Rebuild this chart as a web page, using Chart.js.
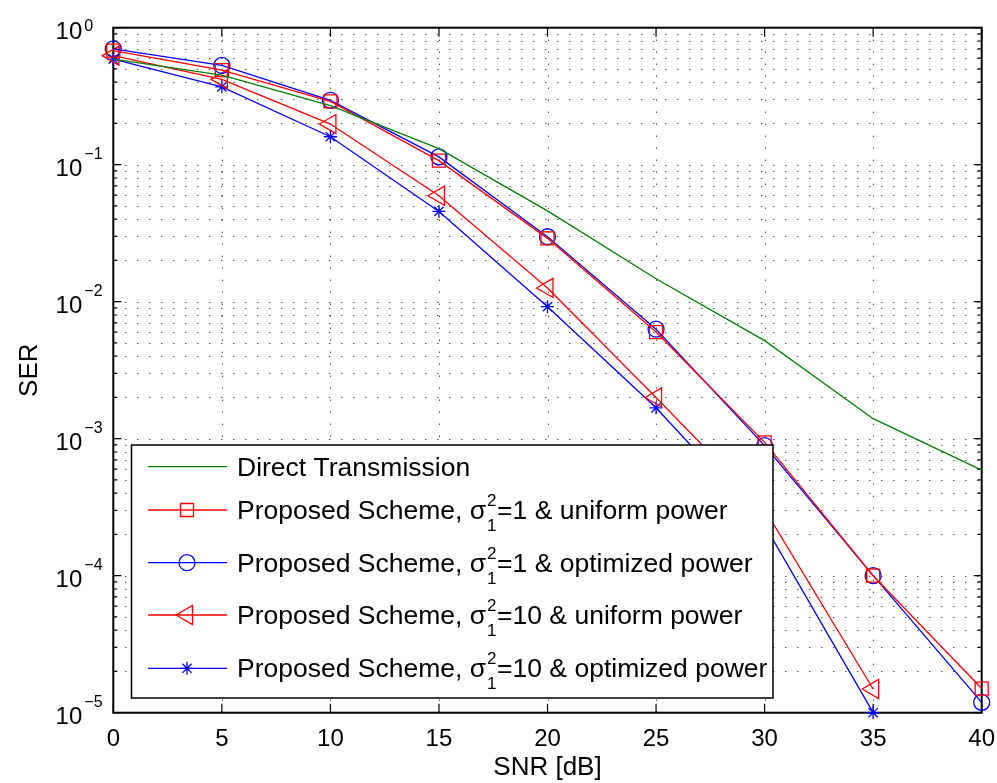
<!DOCTYPE html>
<html>
<head>
<meta charset="utf-8">
<script src="https://cdn.jsdelivr.net/npm/chart.js@4.4.0/dist/chart.umd.min.js"></script>
<style>
  html, body { margin: 0; padding: 0; background: #ffffff; }
  canvas { display: block; }
</style>
</head>
<body>
<canvas id="c" width="997" height="783"></canvas>
<script>
// ---- data ----
const snr = [0, 5, 10, 15, 20, 25, 30, 35, 40];
const directTx     = [0.59, 0.45, 0.27, 0.131, 0.046, 0.0147, 0.0052, 0.0014, 0.00059];
const s1Uniform    = [0.68, 0.49, 0.29, 0.107, 0.029, 0.0060, 0.00094, 0.0001, 0.000015];
const s1Optimized  = [0.70, 0.53, 0.295, 0.114, 0.0298, 0.0063, 0.00089, 0.0001, 0.0000119];
const s10Uniform   = [0.625, 0.42, 0.198, 0.0594, 0.0126, 0.0020, 0.000305, 0.0000149];
const s10Optimized = [0.59, 0.37, 0.16, 0.0456, 0.0092, 0.00168, 0.000234, 0.00001];

const xTicks = [0, 5, 10, 15, 20, 25, 30, 35, 40];
const yTickExponents = [0, -1, -2, -3, -4, -5];
const legendLabels = [
  ['Direct Transmission'],
  ['Proposed Scheme, σ', '2', '1', '=1 & uniform power'],
  ['Proposed Scheme, σ', '2', '1', '=1 & optimized power'],
  ['Proposed Scheme, σ', '2', '1', '=10 & uniform power'],
  ['Proposed Scheme, σ', '2', '1', '=10 & optimized power']
];
const xTitle = 'SNR [dB]';
const yTitle = 'SER';

const FONT = '"Liberation Sans", Arial, Helvetica, sans-serif';

function pts(vals) { return vals.map((v, i) => ({ x: snr[i], y: v })); }

const datasets = [
  { label: legendLabels[0].join(''), data: pts(directTx), borderColor: '#008000', pointRadius: 0, pointStyle: false },
  { label: 'a', data: pts(s1Uniform), borderColor: '#ff0000', pointStyle: 'rect', pointRadius: 9.2, pointRotation: 0 },
  { label: 'b', data: pts(s1Optimized), borderColor: '#0000ff', pointStyle: 'circle', pointRadius: 8 },
  { label: 'c', data: pts(s10Uniform), borderColor: '#ff0000', pointStyle: 'triangle', pointRadius: 11, pointRotation: -90 },
  { label: 'd', data: pts(s10Optimized), borderColor: '#0000ff', pointStyle: 'star', pointRadius: 6.5 }
].map(d => Object.assign({
  borderWidth: 1.3,
  pointBorderColor: d.borderColor,
  pointBackgroundColor: 'rgba(0,0,0,0)',
  pointBorderWidth: 1.3,
  pointHoverRadius: d.pointRadius,
  tension: 0,
  fill: false,
  clip: false
}, d));

const decorPlugin = {
  id: 'decor',
  beforeDatasetsDraw(chart) {
    const ctx = chart.ctx, a = chart.chartArea;
    const xs = chart.scales.x, ys = chart.scales.y;
    ctx.save();
    // dotted grid
    ctx.strokeStyle = '#000';
    ctx.lineWidth = 1;
    ctx.setLineDash([1, 11]);
    const yVals = [];
    for (let e = -5; e < 0; e++) for (let m = 1; m < 10; m++) yVals.push(m * Math.pow(10, e));
    yVals.forEach(v => {
      if (v <= 1e-5 * 1.0001) return;
      const y = Math.round(ys.getPixelForValue(v)) + 0.5;
      ctx.beginPath(); ctx.moveTo(a.left, y); ctx.lineTo(a.right, y); ctx.stroke();
    });
    xTicks.forEach(v => {
      if (v === 0 || v === 40) return;
      const x = Math.round(xs.getPixelForValue(v)) + 0.5;
      ctx.beginPath(); ctx.moveTo(x, a.bottom); ctx.lineTo(x, a.top); ctx.stroke();
    });
    ctx.setLineDash([]);
    // axis box
    ctx.lineWidth = 2;
    ctx.strokeStyle = '#000';
    ctx.strokeRect(a.left, a.top, a.right - a.left, a.bottom - a.top);
    // ticks
    ctx.lineWidth = 1.2;
    ctx.beginPath();
    yVals.concat([1]).forEach(v => {
      const y = ys.getPixelForValue(v);
      const lg = Math.log10(v);
      const major = Math.abs(lg - Math.round(lg)) < 1e-6;
      const len = major ? 8 : 4;
      ctx.moveTo(a.left, y); ctx.lineTo(a.left + len, y);
      ctx.moveTo(a.right, y); ctx.lineTo(a.right - len, y);
    });
    xTicks.forEach(v => {
      const x = xs.getPixelForValue(v);
      ctx.moveTo(x, a.bottom); ctx.lineTo(x, a.bottom - 9);
      ctx.moveTo(x, a.top); ctx.lineTo(x, a.top + 9);
    });
    ctx.stroke();
    // tick labels
    ctx.fillStyle = '#000';
    ctx.font = '24px ' + FONT;
    ctx.textAlign = 'center';
    ctx.textBaseline = 'alphabetic';
    xTicks.forEach(v => {
      ctx.fillText(String(v), xs.getPixelForValue(v), a.bottom + 33);
    });
    yTickExponents.forEach(e => {
      const y = ys.getPixelForValue(Math.pow(10, e));
      ctx.font = '24px ' + FONT;
      ctx.textAlign = 'right';
      ctx.fillText('10', a.left - 31, y + 11);
      ctx.font = '16px ' + FONT;
      ctx.textAlign = 'left';
      const txt = e === 0 ? '0' : '\u2212' + String(-e);
      ctx.fillText(txt, a.left - 29, e === 0 ? y + 3 : y - 6);
    });
    // axis titles
    ctx.font = '26px ' + FONT;
    ctx.textAlign = 'center';
    ctx.fillText(xTitle, (a.left + a.right) / 2, 775);
    ctx.save();
    ctx.translate(37, (a.top + a.bottom) / 2);
    ctx.rotate(-Math.PI / 2);
    ctx.fillText(yTitle, 0, 0);
    ctx.restore();
    ctx.restore();
  },
  afterDatasetsDraw(chart) {
    const ctx = chart.ctx;
    ctx.save();
    const bx = 131.5, by = 445, bw = 773 - 131.5, bh = 698 - 445;
    ctx.fillStyle = '#fff';
    ctx.fillRect(bx, by, bw, bh);
    ctx.lineWidth = 1.5;
    ctx.strokeStyle = '#000';
    ctx.strokeRect(bx, by, bw, bh);
    const rows = [466.7, 510, 562.7, 615, 668.3];
    const ds = chart.data.datasets;
    rows.forEach((ry, i) => {
      const d = ds[i];
      ctx.strokeStyle = d.borderColor;
      ctx.lineWidth = d.borderWidth;
      ctx.beginPath(); ctx.moveTo(148, ry); ctx.lineTo(227, ry); ctx.stroke();
      if (d.pointStyle) {
        ctx.save();
        ctx.strokeStyle = d.borderColor;
        ctx.fillStyle = 'rgba(0,0,0,0)';
        ctx.lineWidth = d.pointBorderWidth;
        Chart.helpers.drawPoint(ctx, {
          pointStyle: d.pointStyle, radius: d.pointRadius, rotation: d.pointRotation || 0,
          borderWidth: d.pointBorderWidth
        }, 187, ry);
        ctx.restore();
      }
      const parts = legendLabels[i];
      ctx.fillStyle = '#000';
      ctx.textAlign = 'left';
      ctx.textBaseline = 'alphabetic';
      const base = ry + 9;
      let x = 237;
      ctx.font = '26.5px ' + FONT;
      ctx.fillText(parts[0], x, base);
      x += ctx.measureText(parts[0]).width;
      if (parts.length > 1) {
        ctx.font = '17px ' + FONT;
        ctx.fillText(parts[1], x + 1, base - 13);
        ctx.fillText(parts[2], x + 1, base + 12);
        x += Math.max(ctx.measureText(parts[1]).width, ctx.measureText(parts[2]).width) + 1.5;
        ctx.font = '26.5px ' + FONT;
        ctx.fillText(parts[3], x, base);
      }
    });
    ctx.restore();
  }
};

new Chart(document.getElementById('c'), {
  type: 'line',
  data: { datasets },
  options: {
    responsive: false,
    animation: false,
    devicePixelRatio: 1,
    layout: { padding: { left: 113.3, top: 27.7, right: 15.3, bottom: 70.3 } },
    plugins: { legend: { display: false }, tooltip: { enabled: false } },
    events: [],
    scales: {
      x: { type: 'linear', min: 0, max: 40, display: false },
      y: { type: 'logarithmic', min: 1e-5, max: 1, display: false }
    }
  },
  plugins: [decorPlugin]
});
</script>
</body>
</html>
